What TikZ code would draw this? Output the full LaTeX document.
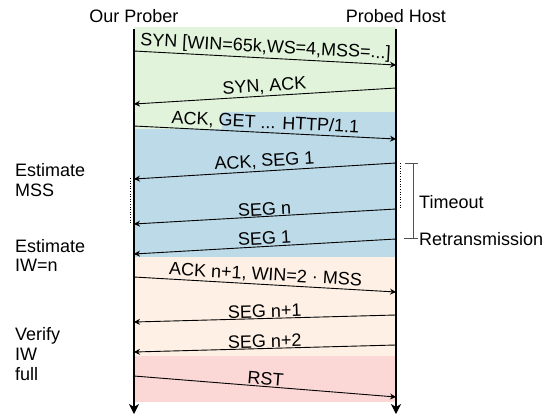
\documentclass[tikz,border=0pt]{standalone}
\usepackage{fontspec}
\setmainfont{Liberation Sans}
\usetikzlibrary{arrows.meta}
\definecolor{cgreen}{HTML}{E1F3DA}
\definecolor{cblue}{HTML}{BDDAE8}
\definecolor{cbeige}{HTML}{FEF0E4}
\definecolor{cpink}{HTML}{FBD7D6}
\definecolor{cbracket}{HTML}{505050}
\begin{document}
\begin{tikzpicture}[x=1pt,y=-1pt,
  font=\fontsize{18}{20}\selectfont,
  life/.style={line width=1.4pt,-{Stealth[length=10pt,width=10pt,inset=3pt]}},
  msg/.style={line width=0.9pt,-{Stealth[length=6pt,width=6pt,inset=2pt]}},
  lbl/.style={sloped,anchor=south,inner sep=1.5pt},
  side/.style={anchor=base west,inner sep=0pt},
  head/.style={anchor=base,inner sep=0pt},
  dots/.style={dotted,line width=0.6pt},
  brk/.style={cbracket,line width=0.9pt}]
\fill[white] (0,0) rectangle (558,416);
\useasboundingbox (0,0) rectangle (558,416);
% phase backgrounds
\fill[cgreen] (134,27) rectangle (396,112);
\fill[cblue] (134,112) rectangle (396,257);
\fill[cgreen] (134,112) rectangle (222,129);
\fill[cbeige] (134,257) rectangle (396,356);
\fill[cpink] (134,356) rectangle (396,402);
% headers
\node[head] (prober) at (134,22) {Our Prober};
\node[head] (host) at (396,22) {Probed Host};
% endpoints
\coordinate (l1) at (134,51);  \coordinate (r1) at (396,65);
\coordinate (r2) at (396,88);  \coordinate (l2) at (134,104);
\coordinate (l3) at (134,126); \coordinate (r3) at (396,139);
\coordinate (r4) at (396,163); \coordinate (l4) at (134,179);
\coordinate (r5) at (396,209); \coordinate (l5) at (134,224);
\coordinate (r6) at (396,239); \coordinate (l6) at (134,254);
\coordinate (l7) at (134,277); \coordinate (r7) at (396,292);
\coordinate (r8) at (396,315); \coordinate (l8) at (134,322);
\coordinate (r9) at (396,345); \coordinate (l9) at (134,352);
\coordinate (l10) at (134,376); \coordinate (r10) at (396,397);
% messages
\draw[msg] (l1) -- node[lbl] {SYN [WIN=65k,WS=4,MSS=...]} (r1);
\draw[msg] (r2) -- node[lbl] {SYN, ACK} (l2);
\draw[msg] (l3) -- node[lbl] {ACK, GET ... HTTP/1.1} (r3);
\draw[msg] (r4) -- node[lbl] {ACK, SEG 1} (l4);
\draw[msg] (r5) -- node[lbl,inner sep=0.5pt] {SEG n} (l5);
\draw[msg] (r6) -- node[lbl] {SEG 1} (l6);
\draw[msg] (l7) -- node[lbl] {ACK n+1, WIN=2 · MSS} (r7);
\draw[msg] (r8) -- node[lbl,inner sep=0.5pt] {SEG n+1} (l8);
\draw[msg] (r9) -- node[lbl,inner sep=0.5pt] {SEG n+2} (l9);
\draw[msg] (l10) -- node[lbl,inner sep=0.5pt] {RST} (r10);
% lifelines
\coordinate (ptop) at (134,29); \coordinate (pbot) at (134,414);
\coordinate (htop) at (396,29); \coordinate (hbot) at (396,414);
\draw[life] (ptop) -- (pbot);
\draw[life] (htop) -- (hbot);
% dotted markers
\coordinate (dl1) at (130,178); \coordinate (dl2) at (130,224);
\coordinate (dr1) at (400,163); \coordinate (dr2) at (400,209);
\draw[dots] (dl1) -- (dl2);
\draw[dots] (dr1) -- (dr2);
% timeout bracket
\coordinate (bt1) at (405,163); \coordinate (bt2) at (418,163);
\coordinate (bm1) at (413,163); \coordinate (bm2) at (413,238);
\coordinate (bb1) at (404,238); \coordinate (bb2) at (418,238);
\draw[brk] (bt1) -- (bt2);
\draw[brk] (bm1) -- (bm2);
\draw[brk] (bb1) -- (bb2);
\node[side] (timeout) at (419,208) {Timeout};
\node[side] (retrans) at (419,245) {Retransmission};
% side notes
\node[side] (ea) at (15,176) {Estimate};
\node[side] (eb) at (15,196) {MSS};
\node[side] (fa) at (15,252) {Estimate};
\node[side] (fb) at (15,271) {IW=n};
\node[side] (va) at (15,340) {Verify};
\node[side] (vb) at (15,360) {IW};
\node[side] (vc) at (15,380) {full};
\end{tikzpicture}
\end{document}
